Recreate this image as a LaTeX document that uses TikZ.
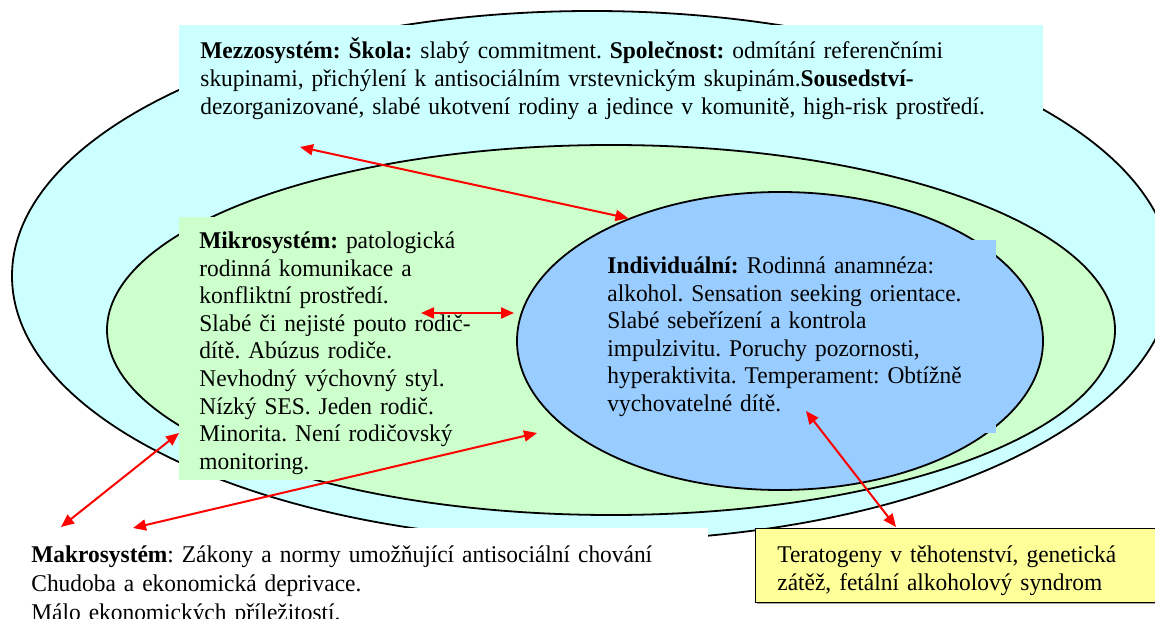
\documentclass[tikz,border=0pt]{standalone}
\usepackage{fontspec}
\setmainfont{Liberation Serif}[FakeStretch=0.975]
\usetikzlibrary{arrows.meta,positioning,shapes.geometric,shadows}

\definecolor{mezzofill}{HTML}{CCFFFF}
\definecolor{mikrofill}{HTML}{CCFFCC}
\definecolor{indivfill}{HTML}{99CCFF}
\definecolor{terafill}{HTML}{FFFF99}
\frenchspacing

\begin{document}
\begin{tikzpicture}[x=0.5pt,y=-0.5pt,
  ring/.style={ellipse,draw=black,line width=0.9pt,inner sep=0pt},
  panel/.style={anchor=north west,inner sep=0pt},
  blurb/.style={anchor=north west,inner sep=0pt,align=left,text width=#1,font=\fontsize{12}{13.8}\selectfont},
  link/.style={{Triangle[length=6.5pt,width=5.5pt]}-{Triangle[length=6.5pt,width=5.5pt]},line width=1pt,draw=red}
]
\useasboundingbox (0,0) rectangle (1155,619);
\clip (0,0) rectangle (1155,619);

\node[ring,fill=mezzofill,minimum width=580pt,minimum height=265pt] (mezzo) at (592,276) {};
\node[panel,fill=mezzofill,minimum width=432pt,minimum height=57.5pt] (mezzobox) at (179,25) {};
\node[ring,fill=mikrofill,minimum width=504pt,minimum height=185pt] (mikro) at (611,330) {};
\node[panel,fill=mikrofill,minimum width=163pt,minimum height=131.5pt] (mikrobox) at (179,217) {};
\node[ring,fill=indivfill,minimum width=263pt,minimum height=149pt] (indiv) at (780,341) {};
\node[panel,fill=indivfill,minimum width=198pt,minimum height=96.5pt] (indivbox) at (600,240) {};
\node[panel,fill=white,minimum width=354pt,minimum height=50pt] (makrobox) at (0,528) {};
\node[panel,fill=terafill,draw=black,line width=0.7pt,drop shadow={shadow xshift=0.8pt,shadow yshift=-0.8pt,opacity=0.7},minimum width=215pt,minimum height=37pt] (terabox) at (755,528) {};

\node[blurb=420pt] (mezzotext) at (200,37.7) {\strut\textbf{Mezzosystém: Škola:} slabý commitment. \textbf{Společnost:} odmítání referenčními\\
skupinami, přichýlení k antisociálním vrstevnickým skupinám.\textbf{Sousedství-}\\
dezorganizované, slabé ukotvení rodiny a jedince v komunitě, high-risk prostředí.};
\node[blurb=160pt] (mikrotext) at (199,228.7) {\strut\textbf{Mikrosystém:} patologická\\
rodinná komunikace a\\
konfliktní prostředí.\\
Slabé či nejisté pouto rodič-\\
dítě. Abúzus rodiče.\\
Nevhodný výchovný styl.\\
Nízký SES. Jeden rodič.\\
Minorita. Není rodičovský\\
monitoring.};
\node[blurb=200pt] (indivtext) at (607,253.7) {\strut\textbf{Individuální:} Rodinná anamnéza:\\
alkohol. Sensation seeking orientace.\\
Slabé sebeřízení a kontrola\\
impulzivitu. Poruchy pozornosti,\\
hyperaktivita. Temperament: Obtížně\\
vychovatelné dítě.};
\node[blurb=340pt,font=\fontsize{12}{14.5}\selectfont] (makrotext) at (31,541.7) {\strut\textbf{Makrosystém}: Zákony a normy umožňující antisociální chování\\
Chudoba a ekonomická deprivace.\\
Málo ekonomických příležitostí.};
\node[blurb=190pt] (teratext) at (777,542.7) {\strut Teratogeny v těhotenství, genetická\\
zátěž, fetální alkoholový syndrom};

\coordinate (mezzoend) at (300,147);
\coordinate (mikroend) at (421,313);
\coordinate (indivend) at (514,313);
\coordinate (mikrolow) at (179,433);
\coordinate (mikrofar) at (537,433);
\coordinate (makroleft) at (61,527);
\coordinate (makroright) at (133,528);
\coordinate (indivlow) at (806,411);
\coordinate (teratop) at (896,527);

\draw[link] (mezzoend) -- (indiv.141);
\draw[link] (mikroend) -- (indivend);
\draw[link] (makroleft) -- (mikrolow);
\draw[link] (makroright) -- (mikrofar);
\draw[link] (indivlow) -- (teratop);
\end{tikzpicture}
\end{document}
